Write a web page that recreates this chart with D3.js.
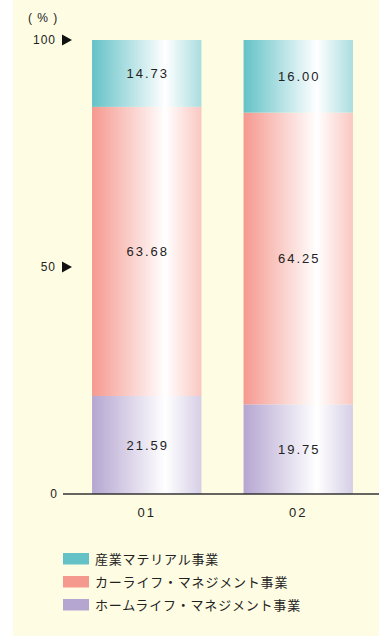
<!DOCTYPE html>
<html>
<head>
<meta charset="utf-8">
<script src="https://cdn.jsdelivr.net/npm/d3@7"></script>
<style>
  html, body { margin: 0; padding: 0; background: #ffffff; }
  svg { display: block; }
  text { font-family: "Liberation Sans", Arial, sans-serif; fill: #222; }
  .jp { font-family: "Noto Sans CJK JP", sans-serif; }
</style>
</head>
<body>
<svg id="chart" width="379" height="636"></svg>
<script>
// Fiscal years on the x axis
const years = ["01", "02"];
// Segment names, bottom to top of each stacked bar
const segments = ["ホームライフ・マネジメント事業", "カーライフ・マネジメント事業", "産業マテリアル事業"];
// Share of sales (%) per segment, one value per year
const homeLife = [21.59, 19.75];
const carLife = [63.68, 64.25];
const industrial = [14.73, 16.00];
// Y axis ticks
const yTicks = [0, 50, 100];
const colors = ["#b5a6d1", "#f5998f", "#64c2c7"];
// Legend order (top to bottom)
const legendOrder = [2, 1, 0];

const seriesValues = [homeLife, carLife, industrial];
const rows = years.map((y, i) => {
  const r = { year: y };
  segments.forEach((s, k) => r[s] = seriesValues[k][i]);
  return r;
});
const stacked = d3.stack().keys(segments)(rows);

const svg = d3.select("#chart");

// Panel background
svg.append("rect").attr("x", 13).attr("y", 0).attr("width", 366).attr("height", 636).attr("fill", "#fefce2");

const y = d3.scaleLinear().domain([0, 100]).range([494, 40]);
const x = d3.scaleBand().domain(years).range([71, 374]).paddingInner(0.278).paddingOuter(0.139);

// Horizontal shading: colour on the left, white highlight, tinted right edge
const defs = svg.append("defs");
segments.forEach((s, k) => {
  const g = defs.append("linearGradient").attr("id", "grad" + k)
    .attr("x1", "0%").attr("x2", "100%").attr("y1", "0%").attr("y2", "0%");
  const c = colors[k];
  g.append("stop").attr("offset", "0%").attr("stop-color", c);
  g.append("stop").attr("offset", "67%").attr("stop-color", "#ffffff");
  g.append("stop").attr("offset", "100%").attr("stop-color", d3.interpolateRgb(c, "#ffffff")(0.45));
});

const layers = svg.append("g").selectAll("g").data(stacked).join("g")
  .attr("fill", (d, k) => `url(#grad${k})`);

layers.selectAll("rect").data(d => d).join("rect")
  .attr("x", d => x(d.data.year))
  .attr("width", x.bandwidth())
  .attr("y", d => y(d[1]))
  .attr("height", d => y(d[0]) - y(d[1]));

// Value labels in the middle of each segment
layers.each(function (layer) {
  d3.select(this).selectAll("text").data(layer).join("text")
    .attr("x", d => x(d.data.year) + x.bandwidth() / 2 + 1)
    .attr("y", d => (y(d[0]) + y(d[1])) / 2)
    .attr("dy", "0.35em")
    .attr("text-anchor", "middle")
    .attr("font-size", 13)
    .attr("letter-spacing", 2)
    .attr("fill", "#222")
    .text(d => (d[1] - d[0]).toFixed(2));
});

// Baseline
svg.append("line")
  .attr("x1", 63).attr("x2", 379)
  .attr("y1", y(0)).attr("y2", y(0))
  .attr("stroke", "#333").attr("stroke-width", 1.5);

// X axis labels
const xAxis = d3.axisBottom(x).tickSize(0).tickPadding(14);
const gx = svg.append("g").attr("transform", `translate(0,${y(0)})`).call(xAxis);
gx.select(".domain").remove();
gx.selectAll("text")
  .attr("font-size", 13).attr("letter-spacing", 2)
  .attr("font-family", "Liberation Sans, Arial, sans-serif").attr("fill", "#222");

// Y axis labels with arrow markers
const gy = svg.append("g");
yTicks.forEach(t => {
  const isZero = t === 0;
  gy.append("text")
    .attr("x", isZero ? 58 : 56)
    .attr("y", y(t))
    .attr("dy", "0.35em")
    .attr("text-anchor", "end")
    .attr("font-size", 12)
    .attr("letter-spacing", 1)
    .text(t);
  if (!isZero) {
    const ty = y(t);
    gy.append("path")
      .attr("d", `M62,${ty - 5.5}L72,${ty}L62,${ty + 5.5}Z`)
      .attr("fill", "#111");
  }
});

// Unit label
svg.append("text").attr("x", 28).attr("y", 22).attr("font-size", 12).attr("letter-spacing", 1).text("( % )");

// Legend
const legend = svg.append("g");
legendOrder.forEach((k, i) => {
  const ly = 553 + i * 23;
  legend.append("rect").attr("x", 63).attr("y", ly).attr("width", 26).attr("height", 11.5).attr("fill", colors[k]);
  legend.append("text").attr("class", "jp")
    .attr("x", 95).attr("y", ly + 6).attr("dy", "0.35em")
    .attr("font-size", 13).attr("letter-spacing", 0.8)
    .text(segments[k]);
});
</script>
</body>
</html>
